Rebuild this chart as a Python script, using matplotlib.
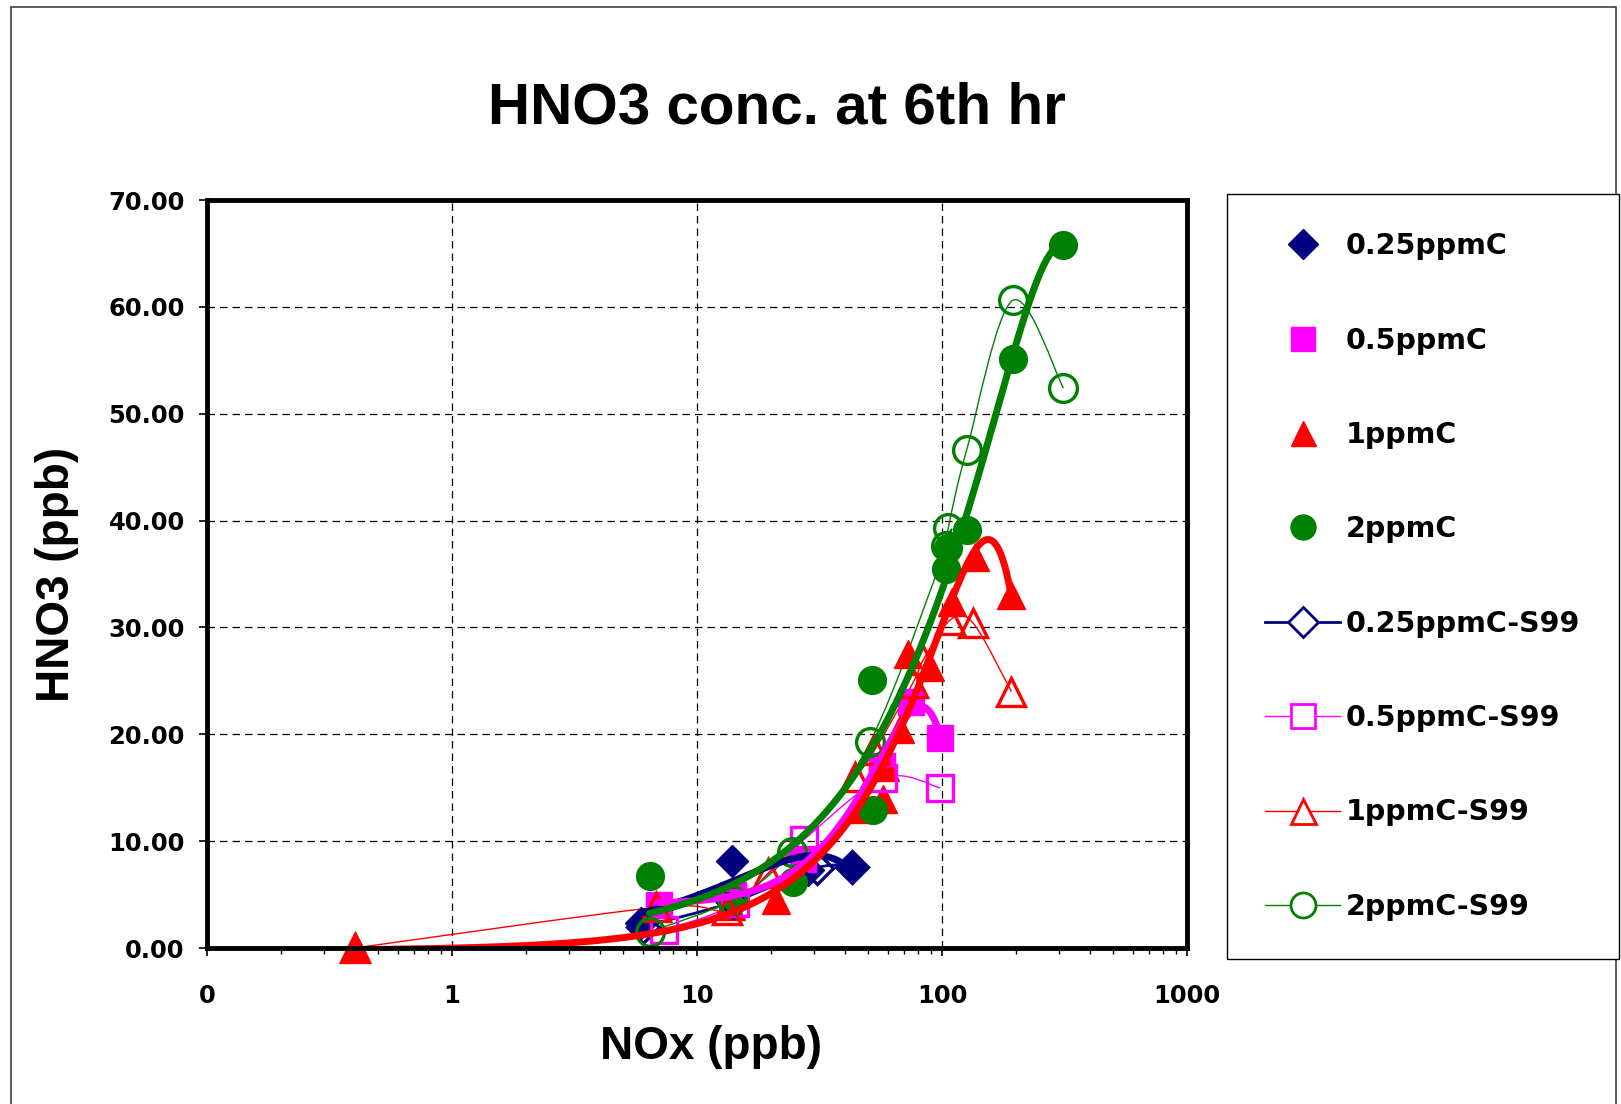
import numpy as np
import matplotlib
matplotlib.use("Agg")
import matplotlib.pyplot as plt
from matplotlib.lines import Line2D
from matplotlib.path import Path
from matplotlib.patches import PathPatch, Rectangle
from matplotlib.ticker import LogLocator, FuncFormatter, NullFormatter

# ---- data (NOx ppb, HNO3 ppb) ----
x_025 = [5.9, 13.9, 28.5, 43.0]
y_025 = [2.3, 8.1, 7.3, 7.6]

x_05 = [7.0, 14.0, 27.0, 57.0, 75.0, 98.0]
y_05 = [4.0, 5.0, 8.3, 17.0, 23.0, 19.7]

x_1 = [0.4, 13.8, 21.0, 45.0, 57.6, 58.5, 67.4, 72.8, 89.0, 110.0, 136.0, 192.0]
y_1 = [0.2, 3.9, 4.5, 13.0, 13.9, 16.9, 20.5, 27.5, 26.3, 32.4, 36.6, 33.0]

x_2 = [6.4, 13.9, 24.6, 52.0, 52.5, 104.0, 106.0, 126.0, 195.0, 313.0]
y_2 = [6.7, 4.5, 6.2, 25.1, 12.9, 35.5, 37.4, 39.1, 55.1, 65.8]

x_025s = [6.0, 14.0, 30.8, 43.0]
y_025s = [2.0, 4.3, 7.5, 7.6]

x_05s = [7.3, 14.3, 27.2, 57.6, 98.0]
y_05s = [1.7, 4.2, 10.1, 15.9, 15.0]

x_1s = [0.4, 6.8, 13.2, 19.5, 44.0, 53.0, 76.0, 84.0, 108.0, 134.0, 192.0]
y_1s = [0.0, 3.8, 3.6, 7.0, 16.0, 18.5, 24.8, 27.0, 30.7, 30.4, 24.0]

x_2s = [6.4, 13.9, 24.4, 50.9, 104.0, 106.0, 126.0, 194.0, 313.0]
y_2s = [1.5, 4.5, 9.0, 19.3, 37.6, 39.3, 46.6, 60.6, 52.4]

trend_deg = {"0.25ppmC": 2, "0.5ppmC": 3, "1ppmC": 3, "2ppmC": 3}

NAVY, MAG, RED, GRN = "#000080", "#FF00FF", "#FF0000", "#008000"


def smooth_patch(x, y, color, lw):
    # excel style smoothed line, built in log-x space
    u = np.log10(np.asarray(x, float))
    v = np.asarray(y, float)
    n = len(u)
    verts = [(u[0], v[0])]
    codes = [Path.MOVETO]
    for i in range(n - 1):
        a = i - 1 if i > 0 else i
        b = i + 2 if i + 2 < n else i + 1
        c1 = (u[i] + (u[i + 1] - u[a]) / 6, v[i] + (v[i + 1] - v[a]) / 6)
        c2 = (u[i + 1] - (u[b] - u[i]) / 6, v[i + 1] - (v[b] - v[i]) / 6)
        verts += [c1, c2, (u[i + 1], v[i + 1])]
        codes += [Path.CURVE4] * 3
    verts = np.array(verts)
    verts[:, 0] = 10 ** verts[:, 0]
    return PathPatch(Path(verts, codes), facecolor="none", edgecolor=color, lw=lw, zorder=3)


fig = plt.figure(figsize=(16.21, 11.04), dpi=100)
fig.patches.append(Rectangle((0.0068, -0.01), 0.99, 1.0035, transform=fig.transFigure,
                             fill=False, edgecolor="#404040", lw=1.2))
ax = fig.add_axes([0.1277, 0.1413, 0.6046, 0.6775])

filled = [
    ("0.25ppmC", x_025, y_025, dict(marker="D", color=NAVY, ms=16.5)),
    ("0.5ppmC", x_05, y_05, dict(marker="s", color=MAG, ms=19)),
    ("1ppmC", x_1, y_1, dict(marker="^", color=RED, ms=20)),
    ("2ppmC", x_2, y_2, dict(marker="o", color=GRN, ms=20)),
]
s99 = [
    ("0.25ppmC-S99", x_025s, y_025s, NAVY, "D", 16.5, 2.0),
    ("0.5ppmC-S99", x_05s, y_05s, MAG, "s", 19, 1.0),
    ("1ppmC-S99", x_1s, y_1s, RED, "^", 20, 1.0),
    ("2ppmC-S99", x_2s, y_2s, GRN, "o", 20, 1.0),
]

handles = []
for name, xs, ys, st in filled:
    ax.plot(xs, ys, linestyle="none", marker=st["marker"], color=st["color"],
            ms=st["ms"], zorder=4, clip_on=False)
    handles.append(Line2D([], [], linestyle="none", marker=st["marker"], color=st["color"],
                          ms=st["ms"] * 0.9))

for name, xs, ys, c, m, ms, lw in s99:
    ax.add_patch(smooth_patch(xs, ys, c, lw))
    ax.plot(xs, ys, linestyle="none", marker=m, ms=ms, mfc="none", mec=c, mew=2.4,
            zorder=4, clip_on=False)
    handles.append(Line2D([], [], color=c, lw=lw, marker=m, ms=ms * 0.9, mfc="white",
                          mec=c, mew=2))

# polynomial trendlines of the filled series
for name, xs, ys, st in filled:
    coef = np.polyfit(xs, ys, trend_deg[name])
    xx = np.geomspace(min(xs), max(xs), 400)
    ax.plot(xx, np.polyval(coef, xx), color=st["color"], lw=5, zorder=5, solid_capstyle="round")

ax.set_xscale("log")
ax.set_xlim(0.1, 1000)
ax.set_ylim(0, 70)
ax.xaxis.set_major_locator(LogLocator(base=10, numticks=10))
ax.xaxis.set_minor_locator(LogLocator(base=10, subs=np.arange(2, 10), numticks=20))
ax.xaxis.set_minor_formatter(NullFormatter())
ax.xaxis.set_major_formatter(FuncFormatter(lambda v, p: "0" if v < 1 else "%d" % round(v)))
ax.set_yticks(np.arange(0, 71, 10))
ax.yaxis.set_major_formatter(FuncFormatter(lambda v, p: "%.2f" % v))

ax.grid(True, which="major", color="black", linestyle=(0, (6, 4)), lw=0.9)
for sp in ax.spines.values():
    sp.set_linewidth(3.5)
    sp.set_zorder(6)
ax.tick_params(axis="both", which="major", direction="out", length=6, width=1.2, color="black")
ax.tick_params(axis="x", which="minor", direction="out", length=4, width=1.0)
ax.tick_params(axis="x", which="major", pad=20)
ax.tick_params(axis="y", which="major", pad=10)
for lab in ax.get_xticklabels() + ax.get_yticklabels():
    lab.set_fontfamily("DejaVu Sans")
    lab.set_fontweight("bold")
    lab.set_fontsize(17.5)

fig.text(0.4793, 0.9017, "HNO3 conc. at 6th hr", ha="center", va="center",
         family="Liberation Sans", weight="bold", fontsize=42)
fig.text(0.4387, 0.0516, "NOx (ppb)", ha="center", va="center",
         family="Liberation Sans", weight="bold", fontsize=33)
fig.text(0.0352, 0.480, "HNO3 (ppb)", ha="center", va="center", rotation=90,
         family="Liberation Sans", weight="bold", fontsize=33)

labels = [f[0] for f in filled] + [s[0] for s in s99]
leg = fig.legend(handles, labels, loc="upper left", bbox_to_anchor=(1227 / 1621, 1 - 194 / 1104),
                 borderaxespad=0, frameon=True, fancybox=False, framealpha=1,
                 prop=dict(family="DejaVu Sans", weight="bold", size=20.5),
                 handlelength=2.63, handletextpad=0.2, labelspacing=2.33, borderpad=1.35,
                 numpoints=1)
leg.get_frame().set_edgecolor("black")
leg.get_frame().set_linewidth(1.0)

fig.savefig("out.png", dpi=100)
